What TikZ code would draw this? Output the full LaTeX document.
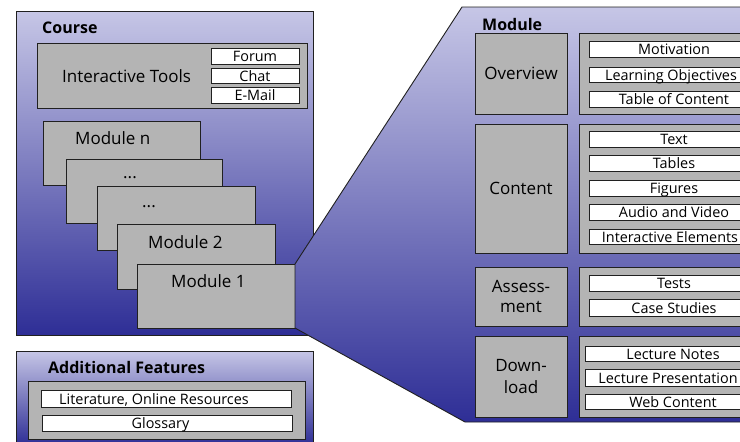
\documentclass[tikz,border=0pt]{standalone}
\usepackage{fontspec}
\setmainfont{Open Sans}
\definecolor{bgtop}{HTML}{C6C6E6}
\definecolor{bgbot}{HTML}{2E2E96}
\definecolor{boxgray}{HTML}{B4B4B4}
\definecolor{edge}{HTML}{202020}
\begin{document}
\begin{tikzpicture}[x=1pt,y=-1pt,
  panel/.style={draw=edge, line width=0.9pt, top color=bgtop, bottom color=bgbot},
  panelnode/.style={panel, anchor=north west, inner sep=0pt, outer sep=0pt},
  graybox/.style={draw=edge, line width=0.9pt, fill=boxgray, anchor=north west, inner sep=0pt, outer sep=0pt, font=\fontsize{17}{21}\selectfont, align=center},
  whitebox/.style={draw=edge, line width=0.8pt, fill=white, anchor=north west, inner sep=0pt, outer sep=0pt, minimum height=16, text height=11.5pt, text depth=0pt, font=\fontsize{14.4}{15}\selectfont},
  label/.style={anchor=base west, inner sep=0pt, font=\fontsize{17}{21}\selectfont},
  title/.style={anchor=base west, inner sep=0pt, font=\fontsize{16}{18}\selectfont\bfseries}
]
\useasboundingbox (0,0) rectangle (740,442);
\clip (0,0) rectangle (740,442);

% Course
\node[panelnode, minimum width=297, minimum height=324] (course) at (16,11) {};
\node[title] (coursetitle) at (42,33) {Course};
\node[graybox, minimum width=270, minimum height=65] (tools) at (37,43) {};
\node[label] (toolstext) at (62,82) {Interactive Tools};
\node[whitebox, minimum width=88] (forum) at (211,48) {Forum};
\node[whitebox, minimum width=88, minimum height=15] (chat) at (211,68) {Chat};
\node[whitebox, minimum width=88] (email) at (211,87) {E-Mail};

% module stack
\node[graybox, minimum width=157, minimum height=64] (mn) at (43,121) {};
\node[label] (mntext) at (75,144) {Module n};
\node[graybox, minimum width=156, minimum height=64] (md1) at (66,159) {};
\node[label, anchor=base] (md1text) at (130,178) {...};
\node[graybox, minimum width=158, minimum height=64] (md2) at (97,186) {};
\node[label, anchor=base] (md2text) at (149,207) {...};
\node[graybox, minimum width=158, minimum height=65] (m2) at (117,224) {};
\node[label] (m2text) at (148,248) {Module 2};
\node[graybox, minimum width=158, minimum height=64] (m1) at (137,264) {};
\node[label] (m1text) at (171,287) {Module 1};

% Module panel
\coordinate (ptl) at (462,7);
\coordinate (ptr) at (780,7);
\coordinate (pbr) at (780,422);
\coordinate (pbl) at (465,422);
\path[panel] (ptl) -- (ptr) -- (pbr) -- (pbl) -- (m1.south east) -- (m1.north east) -- cycle;
\node[title] (moduletitle) at (482,30) {Module};

\node[graybox, minimum width=92, minimum height=81] (overview) at (475,33) {Overview};
\node[graybox, minimum width=190, minimum height=81] (ovitems) at (579,33) {};
\node[whitebox, minimum width=170] (motiv) at (589,41) {Motivation};
\node[whitebox, minimum width=170, minimum height=15] (lo) at (589,67) {Learning Objectives\hspace*{6pt}};
\node[whitebox, minimum width=170] (toc) at (589,91) {Table of Content};

\node[graybox, minimum width=92, minimum height=129] (content) at (475,124) {Content};
\node[graybox, minimum width=190, minimum height=129] (coitems) at (579,124) {};
\node[whitebox, minimum width=170] (text) at (589,131) {Text};
\node[whitebox, minimum width=170] (tables) at (589,155) {Tables};
\node[whitebox, minimum width=170] (figures) at (589,180) {Figures};
\node[whitebox, minimum width=170] (audio) at (589,204) {Audio and Video};
\node[whitebox, minimum width=170, minimum height=15] (inter) at (589,229) {Interactive Elements\hspace*{8pt}};

\node[graybox, minimum width=92, minimum height=59, font=\fontsize{17}{20}\selectfont] (assess) at (475,267) {Assess-\\ment};
\node[graybox, minimum width=190, minimum height=59] (asitems) at (579,267) {};
\node[whitebox, minimum width=170] (tests) at (589,275) {Tests};
\node[whitebox, minimum width=170, minimum height=17] (cases) at (589,299) {Case Studies};

\node[graybox, minimum width=92, minimum height=81, font=\fontsize{17}{22}\selectfont] (download) at (475,336) {Down-\\load};
\node[graybox, minimum width=190, minimum height=81] (dlitems) at (579,336) {};
\node[whitebox, minimum width=176, minimum height=15] (notes) at (585,346) {Lecture Notes};
\node[whitebox, minimum width=176, minimum height=17] (pres) at (585,369) {Lecture Presentation\hspace*{10pt}};
\node[whitebox, minimum width=176, minimum height=15] (web) at (585,394) {Web Content};

% Additional features
\node[panelnode, minimum width=297, minimum height=94] (additional) at (16,351) {};
\node[title] (addtitle) at (48,373) {Additional Features};
\node[graybox, minimum width=277, minimum height=58] (addbox) at (28,381) {};
\node[whitebox, minimum width=250, minimum height=17] (lit) at (41,390) {Literature, Online Resources\hspace*{24pt}};
\node[whitebox, minimum width=250] (gloss) at (42,415) {Glossary\hspace*{13pt}};
\end{tikzpicture}
\end{document}
